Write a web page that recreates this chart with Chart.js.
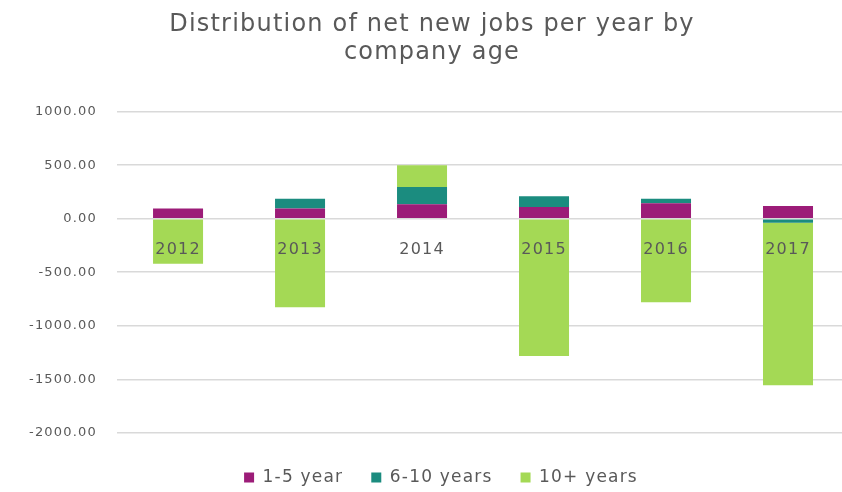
<!DOCTYPE html>
<html>
<head>
<meta charset="utf-8">
<script src="https://cdn.jsdelivr.net/npm/chart.js@4.4.1/dist/chart.umd.min.js"></script>
<style>
  html, body { margin: 0; padding: 0; background: #fff; overflow: hidden; }
  #wrap { width: 860px; height: 496px; position: relative; }
</style>
</head>
<body>
<div id="wrap"><canvas id="chart"></canvas></div>
<script>
// net new jobs per year, split by company age
const years = ['2012', '2013', '2014', '2015', '2016', '2017']
const jobsYoung = [95, 95, 135, 110, 145, 118]        // 1-5 year
const jobsMid = [0, 90, 160, 100, 40, -37]             // 6-10 years
const jobsOld = [-420, -828, 205, -1282, -781, -1520]  // 10+ years
const seriesNames = ['1-5 year', '6-10 years', '10+ years']
const yTicks = [-2000, -1500, -1000, -500, 0, 500, 1000]

const grey = '#595959'
const font = "'DejaVu Sans', sans-serif"

// wide lettering for every text of the chart (reset each time the canvas is resized)
const spacing = {
  id: 'spacing',
  beforeLayout(chart){ chart.ctx.letterSpacing = '1.2px' },
  beforeDraw(chart){ chart.ctx.letterSpacing = '1.2px' },
  afterLayout(chart){
    // legend and title sit a little right of the page centre
    chart.legend.left += 12
    chart.legend.right += 12
    chart.titleBlock.left += 3
    chart.titleBlock.right += 3
  }
}

function makeSet(label, data, color){
  return {
    label: label,
    data: data,
    backgroundColor: color,
    borderWidth: 0,
    categoryPercentage: 1,
    barPercentage: 0.41
  }
}

const config = {
  type: 'bar',
  data: {
    labels: years,
    datasets: [
      makeSet(seriesNames[0], jobsYoung, '#9c1c78'),
      makeSet(seriesNames[1], jobsMid, '#1b8c7f'),
      makeSet(seriesNames[2], jobsOld, '#a4d955')
    ]
  },
  options: {
    responsive: true,
    maintainAspectRatio: false,
    animation: false,
    layout: { padding: { left: 9, right: 11, top: 8, bottom: 0 } },
    plugins: {
      title: {
        display: true,
        text: ['Distribution of net new jobs per year by', 'company age'],
        color: grey,
        font: { family: font, size: 24, weight: 'normal', lineHeight: 1.2 },
        padding: { top: 2, bottom: 44 }
      },
      legend: {
        position: 'bottom',
        // empty title only to push the row of items down
        title: { display: true, text: '', font: { size: 1 }, padding: { top: 7, bottom: 0 } },
        labels: {
          color: grey,
          font: { family: font, size: 17 },
          boxWidth: 10,
          boxHeight: 10,
          padding: 28
        }
      },
      tooltip: { enabled: false }
    },
    scales: {
      x: {
        stacked: true,
        position: { y: 0 },
        grid: { display: false },
        border: { display: false },
        ticks: { color: grey, font: { family: font, size: 16 }, padding: 14, z: 1 }
      },
      y: {
        stacked: true,
        min: yTicks[0],
        max: yTicks[yTicks.length - 1],
        afterBuildTicks: (scale) => { scale.ticks = yTicks.map(v => ({ value: v })) },
        grid: { color: '#d9d9d9', lineWidth: 1.5, drawTicks: false },
        border: { display: false },
        ticks: {
          color: grey,
          font: { family: font, size: 13 },
          padding: 20,
          callback: (v) => Number(v).toFixed(2)
        }
      }
    }
  },
  plugins: [spacing]
}

new Chart(document.getElementById('chart').getContext('2d'), config)
</script>
</body>
</html>
